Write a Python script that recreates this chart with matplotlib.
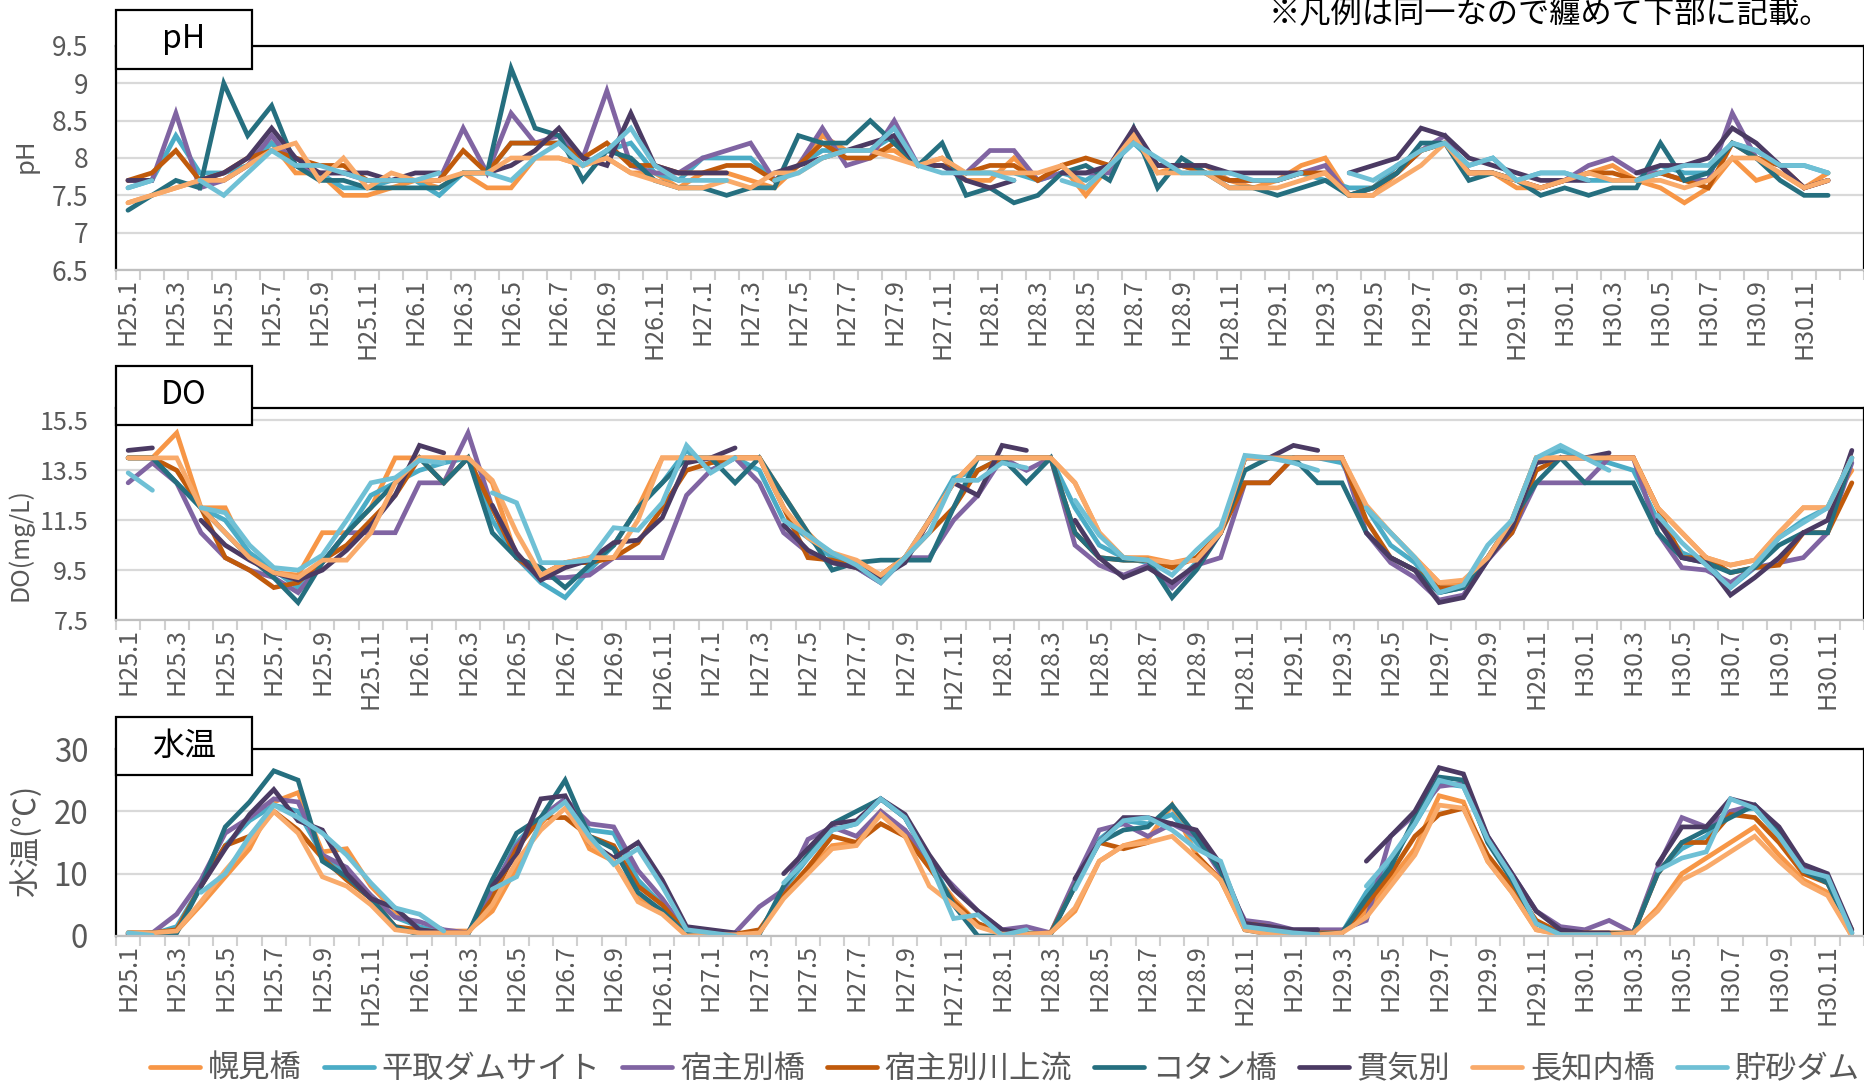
import numpy as np
import matplotlib
matplotlib.use("Agg")
import matplotlib.pyplot as plt
from matplotlib.patches import Rectangle

plt.rcParams['font.family'] = ['Noto Sans CJK JP', 'DejaVu Sans']

nan = float('nan')

sites = ["幌見橋", "平取ダムサイト", "宿主別橋", "宿主別川上流",
         "コタン橋", "貫気別", "長知内橋", "貯砂ダム"]
colors = ["#F79646", "#4BACC6", "#8064A2", "#C05A0B",
          "#256F7F", "#4B3A63", "#F9AA6A", "#6FC0D5"]

# H25.1 .. H30.12
months = [f"H{y}.{m}" for y in range(25, 31) for m in range(1, 13)]

# ---- pH ----
ph_horomi = [7.4, 7.5, 7.6, 7.7, 7.7, 7.9, 8.2, 7.8, 7.8, 7.5, 7.5, 7.6,
             7.7, 7.6, 7.8, 7.6, 7.6, 8.0, 8.0, 7.9, 8.0, 7.8, 7.8, 7.6,
             7.8, 7.8, 7.7, 7.6, 7.9, 8.3, 8.1, 8.1, 8.1, 7.9, 8.0, 7.7,
             7.7, 8.0, 7.7, 7.9, 7.5, 7.9, 8.3, 7.8, 7.9, 7.9, 7.7, 7.6,
             7.7, 7.9, 8.0, 7.5, 7.5, 7.8, 8.1, 8.2, 7.8, 7.8, 7.6, 7.6,
             7.7, 7.8, 7.9, 7.7, 7.6, 7.4, 7.6, 8.0, 7.7, 7.8, 7.6, 7.8]
ph_biratori = [7.6, 7.7, 8.3, 7.8, 7.8, 7.9, 8.2, 7.9, 7.8, 7.6, 7.6, 7.7,
               7.7, 7.5, 7.8, 7.8, 8.2, 8.2, 8.2, 7.9, 8.1, 8.2, 7.8, 7.7,
               8.0, 8.0, 8.0, 7.7, 7.9, 8.1, 8.1, 8.1, 8.3, 7.9, 7.9, 7.8,
               7.8, 7.8, 7.7, 7.8, 7.7, 7.9, 8.2, 7.9, 7.9, 7.8, 7.7, 7.7,
               7.7, 7.8, 7.7, 7.6, 7.6, 7.9, 8.1, 8.2, 7.9, 8.0, 7.7, 7.8,
               7.8, 7.7, 7.7, 7.7, 7.9, 7.8, 7.8, 8.2, 8.1, 7.9, 7.9, 7.8]
ph_shukushubetsu = [7.7, 7.7, 8.6, 7.6, 7.7, 7.9, 8.3, 7.9, 7.8, 7.8, 7.7, 7.7,
                    7.7, 7.7, 8.4, 7.8, 8.6, 8.2, 8.3, 8.0, 8.9, 7.9, 7.8, 7.8,
                    8.0, 8.1, 8.2, 7.7, 7.9, 8.4, 7.9, 8.0, 8.5, 7.9, 7.9, 7.8,
                    8.1, 8.1, 7.7, 7.8, 7.8, 7.8, 8.3, 7.9, 7.9, 7.8, 7.7, 7.7,
                    7.7, 7.8, 7.9, 7.5, 7.6, 7.8, 8.1, 8.3, 7.8, 7.8, 7.7, 7.6,
                    7.7, 7.9, 8.0, 7.8, 7.8, 7.7, 7.7, 8.6, 8.0, 7.9, 7.6, 7.7]
ph_shukushubetsu_up = [7.7, 7.8, 8.1, 7.7, 7.8, 8.0, 8.1, 8.0, 7.9, 7.9, 7.7, 7.7,
                       7.7, 7.7, 8.1, 7.8, 8.2, 8.2, 8.2, 8.0, 8.2, 7.9, 7.9, 7.8,
                       7.8, 7.9, 7.9, 7.7, 7.9, 8.2, 8.0, 8.0, 8.2, 7.9, 7.9, 7.8,
                       7.9, 7.9, 7.7, 7.9, 8.0, 7.9, 8.3, 7.9, 7.9, 7.8, 7.7, 7.7,
                       7.7, 7.8, 7.8, 7.5, 7.6, 7.8, 8.1, 8.2, 7.8, 7.8, 7.7, 7.6,
                       7.7, 7.8, 7.8, 7.7, 7.8, 7.7, 7.6, 8.2, 8.0, 7.9, 7.6, 7.7]
ph_kotan = [7.3, 7.5, 7.7, 7.6, 9.0, 8.3, 8.7, 7.9, 7.7, 7.7, 7.6, 7.6,
            7.6, 7.6, 7.8, 7.8, 9.2, 8.4, 8.3, 7.7, 8.1, 8.0, 7.7, 7.6,
            7.6, 7.5, 7.6, 7.6, 8.3, 8.2, 8.2, 8.5, 8.2, 7.9, 8.2, 7.5,
            7.6, 7.4, 7.5, 7.8, 7.9, 7.7, 8.4, 7.6, 8.0, 7.8, 7.6, 7.6,
            7.5, 7.6, 7.7, 7.5, 7.6, 7.8, 8.2, 8.2, 7.7, 7.8, 7.7, 7.5,
            7.6, 7.5, 7.6, 7.6, 8.2, 7.7, 7.8, 8.2, 8.0, 7.7, 7.5, 7.5]
ph_nukibetsu = [7.7, 7.7, nan, 7.7, 7.8, 8.0, 8.4, 8.0, 7.8, 7.8, 7.8, 7.7,
                7.8, 7.8, nan, 7.8, 7.9, 8.1, 8.4, 8.0, 7.9, 8.6, 7.9, 7.8,
                7.8, 7.8, nan, 7.8, 7.9, 8.0, 8.1, 8.2, 8.3, 7.9, 7.9, 7.7,
                7.6, 7.7, nan, 7.8, 7.8, 7.9, 8.4, 7.9, 7.9, 7.9, 7.8, 7.8,
                7.8, 7.8, nan, 7.8, 7.9, 8.0, 8.4, 8.3, 8.0, 7.9, 7.8, 7.7,
                7.7, 7.7, nan, 7.8, 7.9, 7.9, 8.0, 8.4, 8.2, 7.9, 7.6, 7.7]
ph_osachinai = [7.4, 7.5, 7.6, 7.7, 7.7, 7.9, 8.1, 8.2, 7.7, 8.0, 7.6, 7.8,
                7.7, 7.7, 7.8, 7.8, 8.0, 8.0, 8.0, 7.9, 8.0, 7.8, 7.7, 7.6,
                7.6, 7.7, 7.6, 7.8, 7.8, 8.0, 8.1, 8.1, 8.0, 7.9, 8.0, 7.8,
                7.8, 7.8, 7.8, 7.9, 7.6, 7.9, 8.3, 7.8, 7.8, 7.8, 7.6, 7.6,
                7.6, 7.7, 7.8, 7.5, 7.5, 7.7, 7.9, 8.2, 7.8, 7.8, 7.7, 7.6,
                7.7, 7.8, 7.7, 7.7, 7.7, 7.6, 7.7, 8.0, 8.0, 7.8, 7.6, 7.7]
ph_chosa = [7.6, 7.7, nan, 7.7, 7.5, 7.8, 8.1, 7.9, 7.9, 7.8, 7.7, 7.7,
            7.7, 7.8, nan, 7.8, 7.7, 8.0, 8.2, 7.9, 8.1, 8.4, 7.9, 7.7,
            7.7, 7.7, nan, 7.7, 7.8, 8.0, 8.1, 8.1, 8.4, 7.9, 7.8, 7.8,
            7.8, 7.7, nan, 7.7, 7.6, 7.9, 8.2, 8.0, 7.8, 7.8, 7.8, 7.7,
            7.7, 7.8, nan, 7.8, 7.7, 7.9, 8.1, 8.2, 7.9, 8.0, 7.7, 7.8,
            7.8, 7.7, nan, 7.7, 7.8, 7.9, 7.9, 8.2, 8.1, 7.9, 7.9, 7.8]

# ---- DO (mg/L) ----
do_horomi = [14.0, 14.0, 15.0, 12.0, 12.0, 10.0, 9.4, 9.3, 11.0, 11.0, 12.0, 14.0,
             14.0, 14.0, 14.0, 13.0, 10.0, 9.2, 9.8, 10.0, 10.5, 12.0, 14.0, 14.0,
             14.0, 14.0, 14.0, 12.5, 11.0, 10.0, 9.8, 9.3, 10.0, 11.5, 13.0, 14.0,
             14.0, 14.0, 14.0, 13.0, 11.0, 10.0, 10.0, 9.8, 10.0, 11.0, 14.0, 14.0,
             14.0, 14.0, 14.0, 12.0, 11.0, 10.0, 9.0, 9.0, 10.0, 11.5, 14.0, 14.0,
             14.0, 14.0, 14.0, 12.0, 11.0, 10.0, 9.7, 9.9, 11.0, 12.0, 12.0, 13.5]
do_biratori = [14.0, 14.0, 13.0, 12.0, 11.5, 10.2, 9.5, 8.8, 9.8, 11.0, 12.5, 13.0,
               13.5, 13.8, 14.0, 11.5, 10.0, 9.0, 8.4, 9.5, 10.5, 12.0, 13.0, 14.3,
               13.5, 14.0, 13.5, 11.5, 10.8, 10.0, 9.6, 9.0, 10.0, 11.5, 13.2, 13.5,
               14.0, 14.0, 14.0, 12.0, 10.5, 10.0, 9.8, 8.8, 9.8, 11.0, 14.0, 14.0,
               14.0, 14.0, 13.8, 12.0, 10.5, 9.8, 8.6, 8.8, 10.0, 11.5, 14.0, 14.3,
               14.0, 13.8, 13.5, 11.5, 10.2, 9.8, 8.8, 9.6, 10.8, 11.5, 12.0, 14.0]
do_shukushubetsu = [13.0, 13.8, 13.0, 11.0, 10.0, 9.5, 9.2, 8.6, 9.8, 11.0, 11.0, 11.0,
                    13.0, 13.0, 15.0, 12.0, 10.0, 9.2, 9.2, 9.3, 10.0, 10.0, 10.0, 12.5,
                    13.5, 14.0, 13.0, 11.0, 10.2, 9.8, 9.6, 9.0, 10.0, 10.0, 11.5, 12.5,
                    14.0, 13.5, 14.0, 10.5, 9.7, 9.3, 9.7, 8.8, 9.7, 10.0, 13.0, 13.0,
                    14.0, 14.0, 14.0, 11.0, 9.8, 9.2, 8.3, 8.5, 9.9, 11.0, 13.0, 13.0,
                    13.0, 14.0, 14.0, 11.0, 9.6, 9.5, 9.0, 9.6, 9.8, 10.0, 11.0, 13.8]
do_shukushubetsu_up = [14.0, 14.0, 13.5, 12.0, 10.0, 9.5, 8.8, 9.0, 9.9, 10.5, 11.5, 12.5,
                       14.0, 13.0, 14.0, 12.0, 10.0, 9.3, 9.8, 9.8, 10.0, 10.6, 12.0, 13.5,
                       13.8, 14.0, 14.0, 12.0, 10.0, 9.9, 9.6, 9.3, 10.0, 11.0, 12.0, 13.5,
                       14.0, 14.0, 14.0, 11.0, 10.0, 9.9, 9.9, 9.6, 10.0, 11.0, 13.0, 13.0,
                       14.0, 14.0, 14.0, 11.5, 10.0, 9.5, 8.8, 8.8, 10.0, 11.0, 13.5, 14.0,
                       14.0, 14.0, 14.0, 12.0, 10.0, 10.0, 9.4, 9.6, 9.7, 11.0, 11.0, 13.0]
do_kotan = [14.0, 14.0, 13.0, 12.0, 11.0, 10.0, 9.2, 8.2, 9.8, 11.0, 12.0, 13.0,
            14.0, 13.0, 14.0, 11.0, 10.0, 9.6, 8.8, 9.7, 10.5, 12.0, 13.0, 14.0,
            14.0, 13.0, 14.0, 12.5, 11.0, 9.5, 9.8, 9.9, 9.9, 9.9, 12.0, 14.0,
            14.0, 13.0, 14.0, 11.0, 10.0, 9.9, 9.9, 8.4, 9.5, 11.0, 13.5, 14.0,
            14.0, 13.0, 13.0, 11.0, 10.0, 9.5, 8.6, 8.8, 10.0, 11.5, 13.0, 14.0,
            13.0, 13.0, 13.0, 11.0, 10.0, 9.8, 9.4, 9.6, 10.5, 11.0, 11.0, 14.0]
do_nukibetsu = [14.3, 14.4, nan, 11.5, 10.5, 9.9, 9.4, 9.1, 9.5, 10.3, 11.3, 12.5,
                14.5, 14.2, nan, 12.1, 10.2, 9.1, 9.6, 9.9, 10.6, 10.7, 11.6, 13.8,
                14.0, 14.4, nan, 11.3, 10.3, 9.8, 9.6, 9.2, 9.8, 11.5, 13.0, 12.5,
                14.5, 14.3, nan, 11.5, 10.0, 9.2, 9.6, 9.0, 9.7, 11.0, 14.0, 14.0,
                14.5, 14.3, nan, 11.0, 10.0, 9.5, 8.2, 8.4, 9.9, 11.2, 13.8, 14.0,
                14.0, 14.2, nan, 11.5, 10.0, 9.8, 8.5, 9.2, 10.0, 11.0, 11.5, 14.3]
do_osachinai = [14.0, 14.0, 14.0, 12.0, 11.0, 10.0, 9.4, 9.2, 9.9, 9.9, 11.0, 13.0,
                14.0, 14.0, 14.0, 13.1, 11.0, 9.3, 9.8, 10.0, 10.0, 11.5, 14.0, 14.0,
                14.0, 14.0, 14.0, 12.0, 10.8, 10.2, 9.9, 9.3, 10.0, 11.5, 13.0, 14.0,
                14.0, 14.0, 14.0, 13.0, 11.0, 10.0, 9.9, 9.8, 9.9, 11.0, 14.0, 14.0,
                14.0, 14.0, 14.0, 12.1, 11.0, 10.0, 9.0, 9.1, 10.0, 11.5, 14.0, 14.0,
                14.0, 14.0, 14.0, 12.0, 11.0, 10.0, 9.7, 9.9, 11.0, 12.0, 12.0, 14.0]
do_chosa = [13.4, 12.7, nan, 12.0, 11.8, 10.5, 9.6, 9.5, 10.1, 11.5, 13.0, 13.2,
            13.9, 13.8, nan, 12.6, 12.2, 9.8, 9.8, 9.9, 11.2, 11.1, 12.2, 14.5,
            13.4, 14.0, nan, 11.5, 10.9, 10.2, 9.7, 9.0, 10.0, 11.0, 13.1, 13.1,
            13.8, 13.6, nan, 12.3, 10.9, 10.0, 9.9, 9.3, 10.3, 11.2, 14.1, 14.0,
            13.8, 13.5, nan, 12.0, 11.0, 10.0, 8.6, 8.9, 10.5, 11.5, 14.0, 14.5,
            14.0, 13.5, nan, 11.7, 10.6, 9.7, 8.8, 9.7, 10.8, 11.4, 12.0, 14.0]

# ---- 水温 (℃) ----
wt_horomi = [0.5, 0.5, 0.8, 5.0, 9.5, 14.0, 21.5, 23.0, 13.5, 14.0, 8.0, 4.0,
             1.0, 0.8, 0.8, 4.0, 11.0, 18.0, 22.0, 14.0, 12.0, 6.0, 4.0, 0.3,
             0.2, 0.2, 0.5, 6.5, 10.5, 14.5, 15.0, 20.0, 16.5, 11.0, 6.0, 2.0,
             0.5, 0.3, 0.5, 4.0, 12.0, 14.5, 15.5, 21.0, 13.0, 9.0, 1.0, 0.5,
             0.3, 0.3, 0.5, 4.0, 9.0, 14.0, 22.5, 21.5, 12.0, 7.0, 1.0, 0.3,
             0.3, 0.3, 0.5, 4.5, 10.0, 12.5, 15.0, 17.5, 13.0, 9.0, 7.0, 0.0]
wt_biratori = [0.5, 0.3, 1.5, 8.0, 14.5, 18.5, 21.0, 20.0, 13.0, 10.0, 6.5, 3.0,
               1.5, 0.5, 0.5, 7.0, 15.0, 19.0, 22.0, 17.0, 16.5, 9.0, 5.0, 0.5,
               0.3, 0.2, 0.5, 7.5, 12.5, 17.0, 18.0, 22.0, 19.0, 12.5, 5.0, 2.0,
               0.2, 0.5, 0.5, 8.0, 15.5, 18.5, 18.0, 19.5, 15.0, 11.0, 1.5, 0.8,
               0.3, 0.3, 0.5, 7.0, 12.0, 18.0, 24.5, 24.0, 15.5, 9.5, 2.0, 0.3,
               0.3, 0.3, 0.5, 10.5, 14.0, 16.0, 20.0, 20.5, 16.0, 10.5, 9.0, 0.5]
wt_shukushubetsu = [0.3, 0.5, 3.5, 9.0, 16.5, 19.0, 22.0, 21.5, 13.0, 11.0, 6.5, 3.0,
                    2.3, 1.0, 0.5, 7.5, 14.5, 19.0, 22.0, 18.0, 17.5, 10.5, 6.0, 0.5,
                    0.3, 0.5, 4.7, 7.4, 15.5, 17.5, 16.0, 20.0, 17.0, 12.0, 8.0, 4.0,
                    1.0, 1.5, 0.5, 9.0, 17.0, 18.0, 16.0, 18.0, 16.0, 10.0, 2.5, 2.0,
                    1.0, 1.0, 1.0, 2.5, 16.0, 19.5, 24.0, 24.5, 16.0, 10.0, 4.0, 1.5,
                    1.0, 2.5, 0.5, 11.0, 19.0, 17.5, 20.0, 21.0, 17.0, 11.0, 9.5, 0.5]
wt_shukushubetsu_up = [0.5, 0.5, 1.0, 8.0, 14.5, 16.0, 20.0, 17.0, 12.5, 9.0, 6.0, 1.5,
                       1.0, 0.5, 0.5, 6.0, 14.0, 19.0, 19.0, 16.0, 14.5, 8.0, 5.0, 0.5,
                       0.3, 0.3, 1.0, 6.5, 11.0, 16.0, 15.0, 18.0, 16.0, 11.0, 5.5, 2.0,
                       0.5, 0.3, 0.5, 8.0, 15.0, 14.0, 15.0, nan, 13.0, 9.0, 2.0, 1.5,
                       0.5, 0.5, 0.5, 5.0, 10.0, 16.0, 19.5, 20.5, 13.0, 8.0, 2.5, 0.5,
                       0.5, 0.5, 0.5, 10.0, 15.0, 15.0, 19.5, 19.0, 15.0, 10.0, 8.5, 1.0]
wt_kotan = [0.3, 0.5, 0.5, 8.0, 17.5, 21.5, 26.5, 25.0, 12.0, 9.5, 6.0, 1.5,
            0.2, 0.2, 0.3, 9.0, 16.5, 19.0, 25.0, 16.0, 14.0, 7.0, 4.0, 0.3,
            0.2, 0.0, 0.3, 8.0, 13.0, 18.0, 20.0, 22.0, 19.0, 12.0, 5.0, 0.0,
            0.0, 0.3, 0.3, 8.0, 15.0, 17.0, 17.5, 21.0, 16.0, 10.5, 1.0, 0.3,
            0.3, 0.3, 0.5, 6.0, 11.0, 19.0, 25.5, 25.0, 15.0, 9.0, 2.0, 0.3,
            0.3, 0.3, 0.5, 10.0, 15.0, 17.0, 19.0, 21.0, 16.5, 10.5, 8.5, 0.5]
wt_nukibetsu = [0.3, 0.3, nan, 8.0, 14.0, 19.5, 23.5, 18.5, 17.0, 10.0, 6.0, 4.5,
                1.0, 0.5, nan, 8.0, 13.0, 22.0, 22.5, 15.0, 12.5, 15.0, 9.0, 1.5,
                1.0, 0.5, nan, 10.0, 14.0, 18.0, 18.5, 22.0, 19.5, 13.0, 7.5, 4.0,
                1.0, 0.5, nan, 9.2, 15.0, 19.0, 19.0, 18.0, 17.0, 11.5, 2.0, 1.5,
                1.0, 1.0, nan, 12.0, 16.0, 20.0, 27.0, 26.0, 16.0, 10.0, 4.0, 1.0,
                0.5, 0.5, nan, 11.5, 17.5, 17.5, 22.0, 21.0, 17.5, 11.5, 10.0, 1.0]
wt_osachinai = [0.5, 0.5, 0.8, 5.5, 10.5, 15.0, 20.0, 16.5, 9.5, 8.0, 5.0, 1.0,
                0.5, 0.5, 0.5, 5.0, 12.0, 17.0, 20.5, 15.0, 12.0, 5.5, 3.5, 0.0,
                0.2, 0.2, 0.5, 6.0, 10.0, 14.0, 14.5, 19.5, 16.0, 8.0, 5.0, 1.5,
                0.3, 0.3, 0.5, 4.5, 12.0, 14.5, 15.0, 16.0, 12.5, 9.0, 1.0, 0.3,
                0.2, 0.2, 0.5, 3.0, 8.0, 13.0, 21.0, 20.5, 12.0, 7.0, 1.0, 0.2,
                0.2, 0.2, 0.5, 4.0, 9.0, 11.0, 13.5, 16.0, 12.0, 8.5, 6.5, 0.0]
wt_chosa = [0.5, 0.1, nan, 7.0, 10.0, 16.0, 21.0, 19.0, 16.5, 13.0, 8.5, 4.5,
            3.5, 0.8, nan, 7.5, 9.5, 18.5, 21.5, 16.0, 11.5, 14.0, 8.0, 1.0,
            0.5, 0.0, nan, 8.5, 12.5, 17.0, 18.0, 22.0, 19.0, 12.0, 2.8, 3.4,
            0.1, 1.0, nan, 7.5, 15.0, 18.5, 19.0, 17.0, 14.0, 12.0, 1.5, 1.0,
            0.5, 0.2, nan, 8.0, 12.5, 18.0, 25.0, 24.0, 15.5, 9.5, 2.0, 0.2,
            0.2, 0.2, nan, 10.5, 12.5, 13.5, 22.0, 20.5, 16.0, 10.5, 9.5, 0.5]

ph_series = [ph_horomi, ph_biratori, ph_shukushubetsu, ph_shukushubetsu_up,
             ph_kotan, ph_nukibetsu, ph_osachinai, ph_chosa]
do_series = [do_horomi, do_biratori, do_shukushubetsu, do_shukushubetsu_up,
             do_kotan, do_nukibetsu, do_osachinai, do_chosa]
wt_series = [wt_horomi, wt_biratori, wt_shukushubetsu, wt_shukushubetsu_up,
             wt_kotan, wt_nukibetsu, wt_osachinai, wt_chosa]

W, H = 1865, 1083
GRAY = "#595959"

fig = plt.figure(figsize=(W / 100, H / 100), dpi=100)


def add_panel(series, top, bottom, ylim, yticks, ncat, ylabel, ylabel_pos,
              title, box, ytick_size, ylabel_size):
    left, right = 116, 1864
    ax = fig.add_axes([left / W, 1 - bottom / H, (right - left) / W, (bottom - top) / H])
    x = np.arange(len(months)) + 0.5
    lines = []
    for vals, c in zip(series, colors):
        ln, = ax.plot(x, vals, color=c, lw=3.4, solid_capstyle='round',
                      solid_joinstyle='miter')
        lines.append(ln)
    ax.set_xlim(0, ncat)
    ax.set_ylim(*ylim)
    ax.set_yticks(yticks)
    ax.set_yticklabels([f"{v:g}" for v in yticks])
    ax.yaxis.grid(True, color="#D9D9D9", lw=1.6)
    ax.set_axisbelow(True)
    ax.tick_params(axis='y', length=0, pad=20, labelsize=ytick_size, labelcolor=GRAY)

    ax.set_xticks(np.arange(0, len(months), 2) + 0.5)
    ax.set_xticklabels(months[::2], rotation=90)
    ax.set_xticks(np.arange(ncat + 1), minor=True)
    ax.tick_params(axis='x', which='major', length=0, pad=6, labelsize=18, labelcolor=GRAY)
    ax.tick_params(axis='x', which='minor', length=7, width=1.5, color="#D0D0D0")

    for s in ("top", "left", "right"):
        ax.spines[s].set_color("black")
        ax.spines[s].set_linewidth(1.6)
    ax.spines["bottom"].set_color("#BFBFBF")
    ax.spines["bottom"].set_linewidth(1.6)

    fig.text(ylabel_pos[0] / W, 1 - ylabel_pos[1] / H, ylabel, rotation=90,
             ha='center', va='center', fontsize=ylabel_size, color=GRAY)

    bx0, by0, bx1, by1 = box
    fig.add_artist(Rectangle((bx0 / W, 1 - by1 / H), (bx1 - bx0) / W, (by1 - by0) / H,
                             transform=fig.transFigure, facecolor="white",
                             edgecolor="black", lw=1.6, zorder=5))
    fig.text((bx0 + bx1) / 2 / W, 1 - (by0 + by1) / 2 / H, title, ha='center',
             va='center', fontsize=23, color="black", zorder=6)
    return lines


lines = add_panel(ph_series, 46, 270, (6.5, 9.5), np.arange(6.5, 9.51, 0.5), 73,
                  "pH", (26, 156), "pH", (116, 9.5, 252, 69), 19, 18.5)
add_panel(do_series, 408, 620, (7.5, 16.0), np.arange(7.5, 15.51, 2.0), 72,
          "DO(mg/L)", (20, 545), "DO", (116, 366, 252, 425), 18, 18)
add_panel(wt_series, 749, 936, (0, 30), np.arange(0, 30.1, 10), 72,
          "水温(℃)", (26, 841), "水温", (116, 717, 252, 775), 22.5, 22)

fig.text(1831 / W, 1 - 14 / H, "※凡例は同一なので纏めて下部に記載。", ha='right',
         va='center', fontsize=22.5, color="black")

fig.legend(lines, sites, loc='center', bbox_to_anchor=(1005 / W, 14 / H), ncol=8,
           frameon=False, fontsize=22.5, handlelength=1.6, handletextpad=0.25,
           columnspacing=0.7, labelcolor=GRAY)

fig.savefig("out.png", dpi=100)
